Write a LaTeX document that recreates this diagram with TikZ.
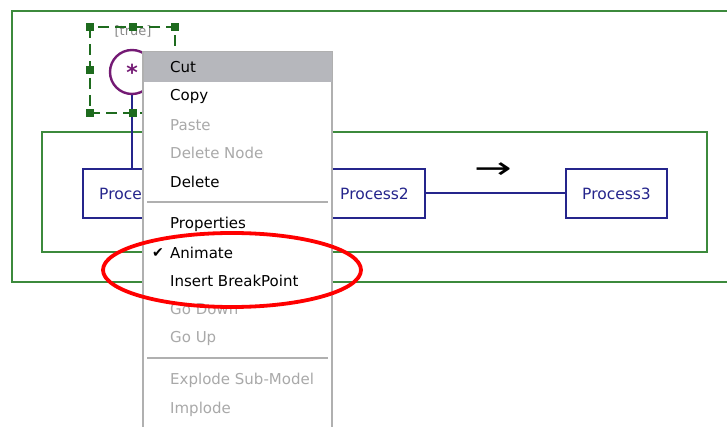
\documentclass[tikz,border=0pt]{standalone}
\usepackage{fontspec}
\setmainfont{DejaVu Sans}
\usetikzlibrary{shapes.geometric}
\definecolor{frameg}{HTML}{3C8A3C}
\definecolor{selg}{HTML}{1E6B1E}
\definecolor{procb}{HTML}{25258C}
\definecolor{startp}{HTML}{741A74}
\definecolor{menuline}{HTML}{B0B0B0}
\definecolor{menuhi}{HTML}{B6B7BC}
\definecolor{dimtext}{HTML}{A9A9A9}
\tikzset{
  frame/.style={draw=frameg, line width=2.2pt},
  procbox/.style={draw=procb, line width=2pt, fill=white, minimum width=101pt,
    minimum height=49pt, text=procb, font=\fontsize{15.5}{16}\selectfont, inner sep=0pt},
  handle/.style={fill=selg, minimum size=8pt, inner sep=0pt},
  item/.style={anchor=west, font=\fontsize{15}{16}\selectfont, inner sep=0pt, text=black},
  dimitem/.style={item, text=dimtext},
  sepline/.style={draw=menuline, line width=1.2pt},
}
\begin{document}
\begin{tikzpicture}[x=1pt, y=-1pt]
\useasboundingbox (0,0) rectangle (727,427);
\fill[white] (0,0) rectangle (727,427);
% outer frame, open to the right
\draw[frame] (729,11) -- (12,11) -- (12,282) -- (729,282);
% inner frame
\draw[frame] (42,132) rectangle (707,252);
% processes
\node[procbox] (p1) at (133.5,193.5) {Process1};
\node[procbox] (p2) at (374.5,193.5) {Process2};
\node[procbox] (p3) at (616.5,193.5) {Process3};
\draw[procb, line width=2pt] (p1) -- (p2);
\draw[procb, line width=2pt] (p2) -- (p3);
\node[font=\fontsize{30}{30}\selectfont, inner sep=0pt] (dir) at (493,171) {\scalebox{1.5}[1]{→}};
% start node and its selection box
\node[draw=startp, line width=2.4pt, circle, minimum size=44pt, inner sep=0pt, fill=white,
  text=startp, font=\bfseries\fontsize{22}{22}\selectfont] (st) at (132,72) {\raisebox{-3pt}{*}};
\draw[procb, line width=2pt] (st.south) -- (st.south |- p1.north);
\node[text=dimtext!80!black, font=\fontsize{13}{13}\selectfont] (guard) at (133,31) {[true]};
\draw[selg, line width=1.1pt, dash pattern=on 11pt off 6pt] (90,27) rectangle (175,113);
\foreach \hx/\hy [count=\i] in {90/27,133/27,175/27,90/70,175/70,90/113,133/113,175/113}
  \node[handle] (h\i) at (\hx,\hy) {};
% context menu
\draw[draw=menuline, fill=white, line width=1.2pt] (143,52) -- (332,52) -- (332,430) -- (143,430) -- cycle;
\fill[menuhi] (144,52) rectangle (331.5,82);
\node[item] (mcut) at (170,67) {Cut};
\node[item] (mcopy) at (170,96) {Copy};
\node[dimitem] (mpaste) at (170,125) {Paste};
\node[dimitem] (mdeln) at (170,153) {Delete Node};
\node[item] (mdel) at (170,182) {Delete};
\draw[sepline] (147,202) -- (328,202);
\node[item] (mprop) at (170,224) {Properties};
\node[item] (manim) at (170,253) {Animate};
\node[font=\fontsize{14}{14}\selectfont, anchor=center] (tick) at (158,253) {✔};
\node[item] (mbreak) at (170,281) {Insert BreakPoint};
\node[dimitem] (mdown) at (170,309) {Go Down};
\node[dimitem] (mup) at (170,338) {Go Up};
\draw[sepline] (147,358) -- (328,358);
\node[dimitem] (mexp) at (170,380) {Explode Sub-Model};
\node[dimitem] (mimp) at (170,409) {Implode};
% highlight ring
\node[draw=red, line width=3.8pt, ellipse, minimum width=258pt, minimum height=74pt, inner sep=0pt] (ring) at (232,270) {};
\end{tikzpicture}
\end{document}
